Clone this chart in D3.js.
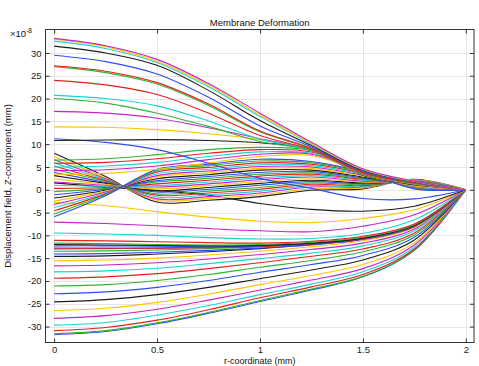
<!DOCTYPE html>
<html>
<head>
<meta charset="utf-8">
<script src="https://cdn.jsdelivr.net/npm/d3@7"></script>
<style>
  html, body { margin: 0; padding: 0; background: #fff; }
  svg { display: block; font-family: "Liberation Sans", Arial, sans-serif; }
  .tick text { font-size: 9.5px; fill: #222; }
  .tick line { stroke: #333; }
</style>
</head>
<body>
<div id="chart"></div>
<script>
const rGrid = [0, 0.25, 0.5, 0.75, 1, 1.25, 1.5, 1.75, 2];

// colour keys of the COMSOL colour cycle
const colorKeys = ['B', 'G', 'R', 'C', 'M', 'Y', 'K'];

// lower family (large negative deflection), values in 1e-8 mm
const lowerKeys = ['B', 'G', 'R', 'C', 'M', 'Y', 'K', 'B', 'G', 'R', 'C', 'M', 'Y', 'K'];
const lowerValues = [
    [-31.8, -31.1, -29.4, -27.1, -24.5, -22.0, -19.1, -13.3, 0],
    [-31.6, -30.9, -29.2, -26.9, -24.3, -21.8, -19.0, -13.2, 0],
    [-30.9, -30.2, -28.6, -26.3, -23.7, -21.3, -18.6, -13.0, 0],
    [-29.7, -29.1, -27.5, -25.4, -23.0, -20.7, -18.0, -12.6, 0],
    [-28.2, -27.6, -26.2, -24.2, -22.0, -19.8, -17.3, -12.1, 0],
    [-26.5, -26.0, -24.7, -22.9, -20.8, -18.8, -16.4, -11.6, 0],
    [-24.6, -24.1, -23.0, -21.4, -19.5, -17.6, -15.4, -11.0, 0],
    [-22.8, -22.4, -21.4, -19.9, -18.1, -16.4, -14.4, -10.4, 0],
    [-21.1, -20.8, -19.9, -18.6, -17.0, -15.5, -13.6, -9.9, 0],
    [-19.4, -19.1, -18.4, -17.3, -16.0, -14.6, -13.0, -9.5, 0],
    [-18.0, -17.8, -17.2, -16.2, -15.1, -13.9, -12.3, -9.0, 0],
    [-16.7, -16.5, -16.0, -15.2, -14.2, -13.1, -11.7, -8.6, 0],
    [-15.6, -15.4, -15.0, -14.3, -13.5, -12.5, -11.2, -8.3, 0],
    [-14.6, -14.5, -14.1, -13.6, -12.9, -12.0, -10.8, -8.0, 0]
];

// flat bundle around -12 and the curves just above it
const clusterKeys = ['B', 'G', 'B', 'R', 'B', 'K', 'G', 'R', 'C', 'M', 'Y', 'K'];
const clusterValues = [
    [-14.1, -14.0, -13.7, -13.3, -12.8, -12.1, -10.9, -8.1, 0],
    [-13.5, -13.4, -13.2, -12.9, -12.5, -11.8, -10.7, -8.0, 0],
    [-13.0, -12.9, -12.8, -12.6, -12.3, -11.7, -10.6, -7.9, 0],
    [-12.8, -12.8, -12.8, -12.7, -12.5, -11.9, -10.8, -8.0, 0],
    [-12.3, -12.3, -12.4, -12.4, -12.3, -11.8, -10.7, -7.9, 0],
    [-12.0, -12.1, -12.2, -12.3, -12.2, -11.7, -10.6, -7.8, 0],
    [-11.7, -11.8, -12.0, -12.1, -12.0, -11.5, -10.4, -7.7, 0],
    [-11.1, -11.2, -11.4, -11.6, -11.7, -11.3, -10.2, -7.5, 0],
    [-9.5, -9.7, -10.0, -10.5, -10.8, -10.7, -9.6, -6.6, 0],
    [-7.1, -7.4, -7.9, -8.5, -9.0, -9.2, -8.0, -5.5, 0],
    [-2.8, -3.5, -4.8, -6.0, -6.9, -7.2, -6.3, -4.4, 0],
    [1.5, 0.6, -0.2, -1.2, -3.0, -4.3, -4.7, -3.6, 0]
];

// tangled curves near zero
const middleKeys = ['K', 'Y', 'M', 'C', 'R', 'G', 'B', 'K', 'Y', 'M', 'C',
                    'R', 'G', 'B', 'K', 'Y', 'M', 'C', 'R', 'G', 'B'];
const middleValues = [
    [8.0, 2.9, -2.7, -2.3, -1.5, -0.1, 0.2, 2.3, 0],
    [7.3, 2.6, -2.3, -1.9, -1.1, 0.2, 0.4, 2.2, 0],
    [6.6, 2.4, -2.0, -1.5, -0.7, 0.6, 0.6, 2.1, 0],
    [5.9, 2.2, -1.6, -1.1, -0.3, 0.9, 0.7, 2.0, 0],
    [5.2, 2.0, -1.2, -0.7, 0.1, 1.2, 0.9, 1.9, 0],
    [4.5, 1.8, -0.9, -0.3, 0.5, 1.5, 1.1, 1.8, 0],
    [3.8, 1.6, -0.5, 0.1, 1.0, 1.8, 1.3, 1.7, 0],
    [3.1, 1.4, -0.2, 0.5, 1.4, 2.1, 1.5, 1.6, 0],
    [2.4, 1.2, 0.2, 0.9, 1.8, 2.4, 1.7, 1.5, 0],
    [1.7, 1.0, 0.6, 1.3, 2.2, 2.8, 1.9, 1.4, 0],
    [1.0, 0.8, 0.9, 1.7, 2.6, 3.1, 2.1, 1.3, 0],
    [0.3, 0.5, 1.3, 2.1, 3.0, 3.4, 2.3, 1.2, 0],
    [-0.4, 0.3, 1.7, 2.5, 3.4, 3.7, 2.4, 1.1, 0],
    [-1.1, 0.1, 2.0, 2.9, 3.8, 4.0, 2.6, 1.0, 0],
    [-1.8, -0.1, 2.4, 3.3, 4.3, 4.3, 2.8, 0.9, 0],
    [-2.5, -0.3, 2.8, 3.7, 4.7, 4.7, 3.0, 0.8, 0],
    [-3.2, -0.5, 3.1, 4.1, 5.1, 5.0, 3.2, 0.6, 0],
    [-3.9, -0.7, 3.5, 4.5, 5.5, 5.3, 3.4, 0.5, 0],
    [-4.6, -0.9, 3.9, 4.9, 5.9, 5.6, 3.6, 0.4, 0],
    [-5.3, -1.1, 4.2, 5.3, 6.3, 5.9, 3.8, 0.3, 0],
    [-5.9, -1.3, 4.5, 5.6, 6.7, 6.2, 3.9, 0.2, 0]
];

// shoulders rising from the centre
const shoulderKeys = ['G', 'R', 'C', 'M', 'Y', 'B'];
const shoulderValues = [
    [6.5, 6.8, 7.7, 8.8, 9.3, 8.6, 4.3, 1.6, 0],
    [5.8, 6.0, 6.8, 8.0, 8.8, 8.3, 4.2, 1.6, 0],
    [5.0, 5.2, 6.0, 7.3, 8.3, 8.0, 4.1, 1.5, 0],
    [4.2, 4.4, 5.2, 6.6, 7.8, 7.8, 4.0, 1.5, 0],
    [3.4, 3.6, 4.5, 5.9, 7.3, 7.5, 3.9, 1.5, 0],
    [11.2, 10.4, 8.8, 5.8, 2.5, 0.3, -1.9, -2.0, 0]
];

// upper family (large positive deflection)
const upperKeys = ['K', 'Y', 'M', 'G', 'C', 'R', 'G', 'R', 'B', 'K', 'C', 'Y', 'M'];
const upperValues = [
    [10.8, 10.9, 11.0, 10.8, 10.3, 8.9, 3.2, 1.3, 0],
    [13.8, 13.7, 13.2, 12.3, 11.0, 8.7, 3.3, 1.3, 0],
    [17.2, 16.8, 15.7, 13.6, 11.2, 8.6, 3.4, 1.4, 0],
    [20.0, 19.0, 16.8, 13.9, 10.6, 8.6, 3.5, 1.4, 0],
    [20.7, 20.0, 18.4, 15.1, 11.1, 8.7, 3.6, 1.5, 0],
    [24.0, 23.0, 20.9, 16.8, 11.9, 8.8, 3.7, 1.5, 0],
    [27.0, 25.7, 23.2, 18.5, 12.7, 9.0, 3.9, 1.6, 0],
    [27.2, 26.0, 23.5, 18.8, 12.9, 9.1, 3.9, 1.6, 0],
    [29.5, 28.1, 25.4, 20.3, 14.0, 9.4, 4.1, 1.7, 0],
    [31.5, 30.0, 27.3, 21.8, 15.2, 9.7, 4.3, 1.8, 0],
    [32.6, 31.0, 27.9, 22.6, 16.1, 10.0, 4.4, 1.8, 0],
    [33.0, 31.4, 28.2, 23.0, 16.4, 10.2, 4.5, 1.9, 0],
    [33.2, 31.6, 28.6, 23.3, 16.8, 10.4, 4.6, 1.9, 0]
];

const xTicks = [0, 0.5, 1, 1.5, 2];
const yTicks = [-30, -25, -20, -15, -10, -5, 0, 5, 10, 15, 20, 25, 30];

const width = 479, height = 366;
const plot = { left: 45.5, right: 474, top: 29.5, bottom: 342.5 };

const svg = d3.select('#chart').append('svg')
    .attr('width', width)
    .attr('height', height);

const x = d3.scaleLinear().domain([-0.042, 2.04]).range([plot.left, plot.right]);
const y = d3.scaleLinear().domain([-33.5, 35.15]).range([plot.bottom, plot.top]);

const color = d3.scaleOrdinal()
    .domain(colorKeys)
    .range(['#2f4cf2', '#2fb52f', '#e3201c', '#1fd2d2', '#c824c8', '#ffc400', '#1c1c1c']);

// grid
const grid = svg.append('g').attr('class', 'grid');
grid.selectAll('line.gx').data(xTicks).enter().append('line')
    .attr('x1', d => Math.round(x(d)) + 0.5).attr('x2', d => Math.round(x(d)) + 0.5)
    .attr('y1', plot.top).attr('y2', plot.bottom)
    .attr('stroke', '#e6e6e6');
grid.selectAll('line.gy').data(yTicks).enter().append('line')
    .attr('y1', d => Math.round(y(d)) + 0.5).attr('y2', d => Math.round(y(d)) + 0.5)
    .attr('x1', plot.left).attr('x2', plot.right)
    .attr('stroke', '#e6e6e6');

// curves
svg.append('clipPath').attr('id', 'plot-clip')
    .append('rect')
    .attr('x', plot.left).attr('y', plot.top)
    .attr('width', plot.right - plot.left).attr('height', plot.bottom - plot.top);

const line = d3.line()
    .x((d, i) => x(rGrid[i]))
    .y(d => y(d))
    .curve(d3.curveCatmullRom.alpha(0.5));

const groups = [
    [lowerKeys, lowerValues],
    [clusterKeys, clusterValues],
    [middleKeys, middleValues],
    [shoulderKeys, shoulderValues],
    [upperKeys, upperValues]
];

const curves = svg.append('g').attr('clip-path', 'url(#plot-clip)');
groups.forEach(([keys, values]) => {
    curves.append('g')
        .selectAll('path')
        .data(values)
        .enter()
        .append('path')
        .attr('d', d => line(d))
        .attr('fill', 'none')
        .attr('stroke', (d, i) => color(keys[i]))
        .attr('stroke-width', 1.1);
});

// axes (inward ticks on all four sides)
const yAxis = svg.append('g')
    .attr('transform', `translate(${plot.left},0)`)
    .call(d3.axisLeft(y).tickValues(yTicks).tickSize(-4).tickPadding(4).tickFormat(d3.format('d')));
const xAxis = svg.append('g')
    .attr('transform', `translate(0,${plot.bottom})`)
    .call(d3.axisBottom(x).tickValues(xTicks).tickSize(-4).tickPadding(3.5).tickFormat(d => d));
svg.append('g')
    .attr('transform', `translate(${plot.right},0)`)
    .call(d3.axisRight(y).tickValues(yTicks).tickSize(-4).tickFormat(''));
svg.append('g')
    .attr('transform', `translate(0,${plot.top})`)
    .call(d3.axisTop(x).tickValues(xTicks).tickSize(-4).tickFormat(''));
svg.selectAll('.domain').remove();
yAxis.selectAll('text').text(d => d < 0 ? '-' + Math.abs(d) : d);

// frame
svg.append('rect')
    .attr('x', plot.left).attr('y', plot.top)
    .attr('width', plot.right - plot.left).attr('height', plot.bottom - plot.top)
    .attr('fill', 'none')
    .attr('stroke', '#333')
    .attr('stroke-width', 1);

// labels
svg.append('text')
    .attr('x', (plot.left + plot.right) / 2)
    .attr('y', 25.5)
    .attr('text-anchor', 'middle')
    .attr('font-size', '9.5px')
    .attr('fill', '#111')
    .text('Membrane Deformation');

svg.append('text')
    .attr('x', (plot.left + plot.right) / 2)
    .attr('y', 363.5)
    .attr('text-anchor', 'middle')
    .attr('font-size', '9px')
    .attr('fill', '#111')
    .text('r-coordinate (mm)');

svg.append('text')
    .attr('transform', `translate(10.5,${(plot.top + plot.bottom) / 2}) rotate(-90)`)
    .attr('text-anchor', 'middle')
    .attr('font-size', '9.5px')
    .attr('fill', '#111')
    .text('Displacement field, Z-component (mm)');

const expo = svg.append('text')
    .attr('x', 10)
    .attr('y', 37)
    .attr('font-size', '9.5px')
    .attr('fill', '#111');
expo.append('tspan').text('×10');
expo.append('tspan').attr('font-size', '6.5px').attr('dy', -4).text('-8');
</script>
</body>
</html>
